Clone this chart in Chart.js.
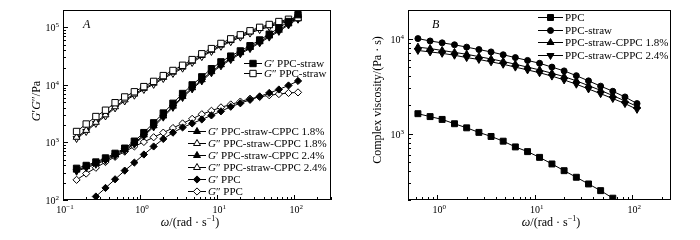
<!DOCTYPE html>
<html><head><meta charset="utf-8">
<script src="https://cdn.jsdelivr.net/npm/chart.js@4.4.1/dist/chart.umd.min.js"></script>
<style>
html,body{margin:0;padding:0;background:#fff;}
#wrap{position:relative;width:700px;height:240px;overflow:hidden;background:#fff;}
.panel{position:absolute;top:0;width:350px;height:240px;}
</style></head><body>
<div id="wrap">
<div class="panel" style="left:0"><canvas id="cA"></canvas></div>
<div class="panel" style="left:350px"><canvas id="cB"></canvas></div>
</div>
<script>
// ---------- Panel A: storage / loss modulus ----------
const omegaA = [0.15, 0.2, 0.267, 0.356, 0.474, 0.632, 0.843, 1.12, 1.5, 2.0, 2.67, 3.56, 4.74, 6.32, 8.43, 11.2, 15.0, 20.0, 26.7, 35.6, 47.4, 63.2, 84.3, 112];
const gpStraw  = [355, 398, 457, 537, 646, 794, 1050, 1480, 2190, 3240, 4790, 7080, 10000, 13800, 19100, 25100, 31600, 38900, 47900, 60300, 75900, 97700, 126000, 166000];
const gppStraw = [1550, 2090, 2820, 3630, 4900, 6170, 7590, 9330, 11500, 14500, 17800, 21900, 27500, 34700, 42700, 52500, 63100, 74100, 87100, 100000, 112000, 126000, 138000, 148000];
const gp18  = [331, 380, 437, 513, 617, 759, 977, 1350, 1950, 2880, 4270, 6310, 8910, 12300, 17000, 22400, 28800, 36300, 44700, 56200, 70800, 89100, 115000, 148000];
const gpp18 = [1230, 1620, 2240, 3020, 4170, 5500, 6920, 8710, 10700, 13500, 16600, 20400, 25700, 32400, 39800, 49000, 58900, 70800, 83200, 95500, 107000, 120000, 132000, 141000];
const gp24  = [316, 363, 417, 490, 589, 724, 933, 1290, 1860, 2750, 4070, 6030, 8510, 11700, 16200, 21400, 27500, 34700, 42700, 53700, 67600, 85100, 110000, 141000];
const gpp24 = [1170, 1550, 2140, 2880, 3980, 5250, 6610, 8320, 10200, 12900, 15800, 19500, 24500, 30900, 38000, 46800, 56200, 67600, 79400, 91200, 102000, 115000, 126000, 138000];
const gpPPC  = [null, null, 115, 162, 229, 324, 447, 617, 851, 1150, 1480, 1820, 2140, 2510, 2950, 3470, 4170, 4790, 5500, 6310, 7240, 8320, 9770, 11700];
const gppPPC = [224, 288, 363, 457, 562, 692, 851, 1020, 1230, 1480, 1780, 2140, 2570, 3090, 3550, 4070, 4570, 5130, 5750, 6170, 6610, 6920, 7240, 7410];
const labelsA = ["G′ PPC-straw", "G″ PPC-straw", "G′ PPC-straw-CPPC 1.8%", "G″ PPC-straw-CPPC 1.8%", "G′ PPC-straw-CPPC 2.4%", "G″ PPC-straw-CPPC 2.4%", "G′ PPC", "G″ PPC"];
const xTicksA = [0.1, 1, 10, 100];
const yTicksA = [100, 1000, 10000, 100000];

// ---------- Panel B: complex viscosity ----------
const omegaB = [0.632, 0.843, 1.12, 1.5, 2.0, 2.67, 3.56, 4.74, 6.32, 8.43, 11.2, 15.0, 20.0, 26.7, 35.6, 47.4, 63.2, 84.3, 112];
const etaPPC   = [1620, 1510, 1410, 1270, 1150, 1030, 933, 832, 724, 646, 562, 479, 407, 347, 295, 251, 209, null, null];
const etaStraw = [10000, 9440, 9020, 8610, 8130, 7670, 7240, 6760, 6310, 5890, 5500, 5010, 4570, 4070, 3590, 3160, 2790, 2430, 2070];
const eta18    = [8130, 7850, 7500, 7160, 6840, 6460, 6100, 5750, 5370, 5010, 4680, 4320, 3980, 3590, 3200, 2850, 2510, 2210, 1930];
const eta24    = [7500, 7240, 7000, 6680, 6310, 6030, 5690, 5370, 5010, 4680, 4370, 4030, 3670, 3310, 2950, 2630, 2340, 2070, 1800];
const labelsB = ["PPC", "PPC-straw", "PPC-straw-CPPC 1.8%", "PPC-straw-CPPC 2.4%"];
const xTicksB = [1, 10, 100];
const yTicksB = [1000, 10000];

const FONT = '"Liberation Serif","Times New Roman",serif';
const pts = (xs, ys) => xs.map((x, i) => ({x: x, y: ys[i]}));

function fontOf(s) { return (s.i ? 'italic ' : '') + s.size + 'px ' + FONT; }
function drawRich(ctx, segs, x, y, align) {
  const w = segs.map(s => { ctx.font = fontOf(s); return ctx.measureText(s.t).width; });
  const total = w.reduce((a, b) => a + b, 0);
  let cx = align === 'center' ? x - total / 2 : align === 'right' ? x - total : x;
  ctx.textAlign = 'left'; ctx.textBaseline = 'alphabetic';
  segs.forEach((s, k) => { ctx.font = fontOf(s); ctx.fillText(s.t, cx, y - (s.rise || 0)); cx += w[k]; });
}
function powLabel(v) {
  const e = Math.round(Math.log10(v));
  return [{t: '10', size: 10}, {t: (e < 0 ? '−' : '') + Math.abs(e), size: 7, rise: 4}];
}
function labelSegs(lbl, size) {
  if (lbl.startsWith('G')) return [{t: 'G', i: true, size: size}, {t: lbl.slice(1), size: size}];
  return [{t: lbl, size: size}];
}
function marker(ctx, style, r, rot, fill, cx, cy) {
  ctx.beginPath();
  if (style === 'circle') ctx.arc(cx, cy, r, 0, Math.PI * 2);
  else if (style === 'rect') { const s = r * Math.SQRT1_2; ctx.rect(cx - s, cy - s, 2 * s, 2 * s); }
  else if (style === 'rectRot') { ctx.moveTo(cx, cy - r); ctx.lineTo(cx + r, cy); ctx.lineTo(cx, cy + r); ctx.lineTo(cx - r, cy); ctx.closePath(); }
  else if (style === 'triangle') {
    const a0 = rot * Math.PI / 180;
    for (let k = 0; k < 3; k++) { const a = a0 + k * 2 * Math.PI / 3; const px = cx + Math.sin(a) * r, py = cy - Math.cos(a) * r; k ? ctx.lineTo(px, py) : ctx.moveTo(px, py); }
    ctx.closePath();
  }
  ctx.fillStyle = fill; ctx.fill(); ctx.stroke();
}

const axesPlugin = {
  id: 'axesDeco',
  afterDraw(chart, args, o) {
    const ctx = chart.ctx, a = chart.chartArea, x = chart.scales.x, y = chart.scales.y;
    ctx.save();
    ctx.strokeStyle = '#000'; ctx.fillStyle = '#000'; ctx.lineWidth = 1;
    const dec = (min, max) => {
      const out = [];
      for (let e = Math.floor(Math.log10(min)) - 1; e <= Math.ceil(Math.log10(max)); e++)
        for (let m = 1; m <= 9; m++) { const v = m * Math.pow(10, e); if (v >= min * 0.999 && v <= max * 1.001) out.push({v: v, major: m === 1}); }
      return out;
    };
    ctx.beginPath();
    dec(x.min, x.max).forEach(t => { const px = Math.round(x.getPixelForValue(t.v)) + 0.5; ctx.moveTo(px, a.bottom); ctx.lineTo(px, a.bottom - (t.major ? 5 : 3)); });
    dec(y.min, y.max).forEach(t => { const py = Math.round(y.getPixelForValue(t.v)) + 0.5; ctx.moveTo(a.left, py); ctx.lineTo(a.left + (t.major ? 5 : 3), py); });
    ctx.stroke();
    ctx.strokeRect(Math.round(a.left) + 0.5, Math.round(a.top) + 0.5, Math.round(a.right - a.left) - 1, Math.round(a.bottom - a.top) - 1);
    o.xTicks.forEach(v => drawRich(ctx, powLabel(v), x.getPixelForValue(v) + 2, a.bottom + 13, 'center'));
    o.yTicks.forEach(v => drawRich(ctx, powLabel(v), a.left - 4, y.getPixelForValue(v) + 4, 'right'));
    // titles
    drawRich(ctx, o.xTitle, o.xTitlePos[0], o.xTitlePos[1], 'center');
    ctx.save(); ctx.translate(o.yTitlePos[0], o.yTitlePos[1]); ctx.rotate(-Math.PI / 2);
    drawRich(ctx, o.yTitle, 0, 4, 'center'); ctx.restore();
    drawRich(ctx, [{t: o.letter, i: true, size: 12}], o.letterPos[0], o.letterPos[1], 'left');
    // legend blocks
    o.legend.forEach(it => {
      const ds = chart.data.datasets[it.ds];
      ctx.beginPath(); ctx.moveTo(it.x, it.y + 0.5); ctx.lineTo(it.x + it.len, it.y + 0.5); ctx.stroke();
      marker(ctx, ds.pointStyle, ds.pointRadius, it.noRot ? 0 : (ds.pointRotation || 0), ds.pointBackgroundColor, it.x + it.len / 2, it.y + 0.5);
      ctx.fillStyle = '#000';
      drawRich(ctx, labelSegs(ds.label, 11), it.x + it.len + 2, it.y + 4, 'left');
    });
    ctx.restore();
  }
};

function ds(label, xs, ys, style, r, filled, rot) {
  return {label: label, data: pts(xs, ys), borderColor: '#000', borderWidth: 1, pointStyle: style, pointRadius: r,
    pointRotation: rot || 0, pointBackgroundColor: filled ? '#000' : '#fff', pointBorderColor: '#000', pointBorderWidth: 1,
    backgroundColor: filled ? '#000' : '#fff', tension: 0, spanGaps: false, fill: false};
}
function opts(scl, pad, deco) {
  return {
    responsive: true, maintainAspectRatio: false, animation: false, events: [],
    layout: {padding: pad},
    plugins: {legend: {display: false}, tooltip: {enabled: false}, axesDeco: deco},
    scales: {
      x: {type: 'logarithmic', min: scl.x[0], max: scl.x[1], display: false},
      y: {type: 'logarithmic', min: scl.y[0], max: scl.y[1], display: false}
    }
  };
}
const omegaTitle = [{t: 'ω', i: true, size: 12}, {t: '/(rad · s', size: 12}, {t: '−1', size: 8, rise: 5}, {t: ')', size: 12}];

new Chart(document.getElementById('cA'), {
  type: 'line',
  data: {datasets: [
    ds(labelsA[0], omegaA, gpStraw, 'rect', 4.5, true),
    ds(labelsA[1], omegaA, gppStraw, 'rect', 4.5, false),
    ds(labelsA[2], omegaA, gp18, 'triangle', 4, true),
    ds(labelsA[3], omegaA, gpp18, 'triangle', 4, false),
    ds(labelsA[4], omegaA, gp24, 'triangle', 4, true, 180),
    ds(labelsA[5], omegaA, gpp24, 'triangle', 4, false, 180),
    ds(labelsA[6], omegaA, gpPPC, 'rectRot', 3.6, true),
    ds(labelsA[7], omegaA, gppPPC, 'rectRot', 3.6, false)
  ]},
  options: opts({x: [0.1, 300], y: [100, 200000]}, {left: 63, right: 19, top: 10, bottom: 40}, {
    xTicks: xTicksA, yTicks: yTicksA, letter: 'A', letterPos: [83, 28],
    xTitle: omegaTitle, xTitlePos: [190, 226],
    yTitle: [{t: 'G', i: true, size: 12}, {t: '′', size: 12}, {t: 'G', i: true, size: 12}, {t: '″/Pa', size: 12}], yTitlePos: [36, 101],
    legend: [
      {ds: 0, x: 244, y: 63, len: 18}, {ds: 1, x: 244, y: 73, len: 18},
      {ds: 2, x: 188, y: 131, len: 18, noRot: true}, {ds: 3, x: 188, y: 143, len: 18, noRot: true},
      {ds: 4, x: 188, y: 155, len: 18, noRot: true}, {ds: 5, x: 188, y: 167, len: 18, noRot: true},
      {ds: 6, x: 188, y: 179, len: 18}, {ds: 7, x: 188, y: 191, len: 18}
    ]
  })
  , plugins: [axesPlugin]
});

new Chart(document.getElementById('cB'), {
  type: 'line',
  data: {datasets: [
    ds(labelsB[0], omegaB, etaPPC, 'rect', 4.2, true),
    ds(labelsB[1], omegaB, etaStraw, 'circle', 3, true),
    ds(labelsB[2], omegaB, eta18, 'triangle', 4, true),
    ds(labelsB[3], omegaB, eta24, 'triangle', 4, true, 180)
  ]},
  options: opts({x: [0.5, 250], y: [200, 20000]}, {left: 58, right: 29, top: 10, bottom: 40}, {
    xTicks: xTicksB, yTicks: yTicksB, letter: 'B', letterPos: [82, 28],
    xTitle: omegaTitle, xTitlePos: [201, 226],
    yTitle: [{t: 'Complex viscosity/(Pa · s)', size: 12}], yTitlePos: [27, 100],
    legend: [
      {ds: 0, x: 188, y: 17, len: 25}, {ds: 1, x: 188, y: 30, len: 25},
      {ds: 2, x: 188, y: 42, len: 25}, {ds: 3, x: 188, y: 55, len: 25}
    ]
  })
  , plugins: [axesPlugin]
});
</script>
</body></html>
